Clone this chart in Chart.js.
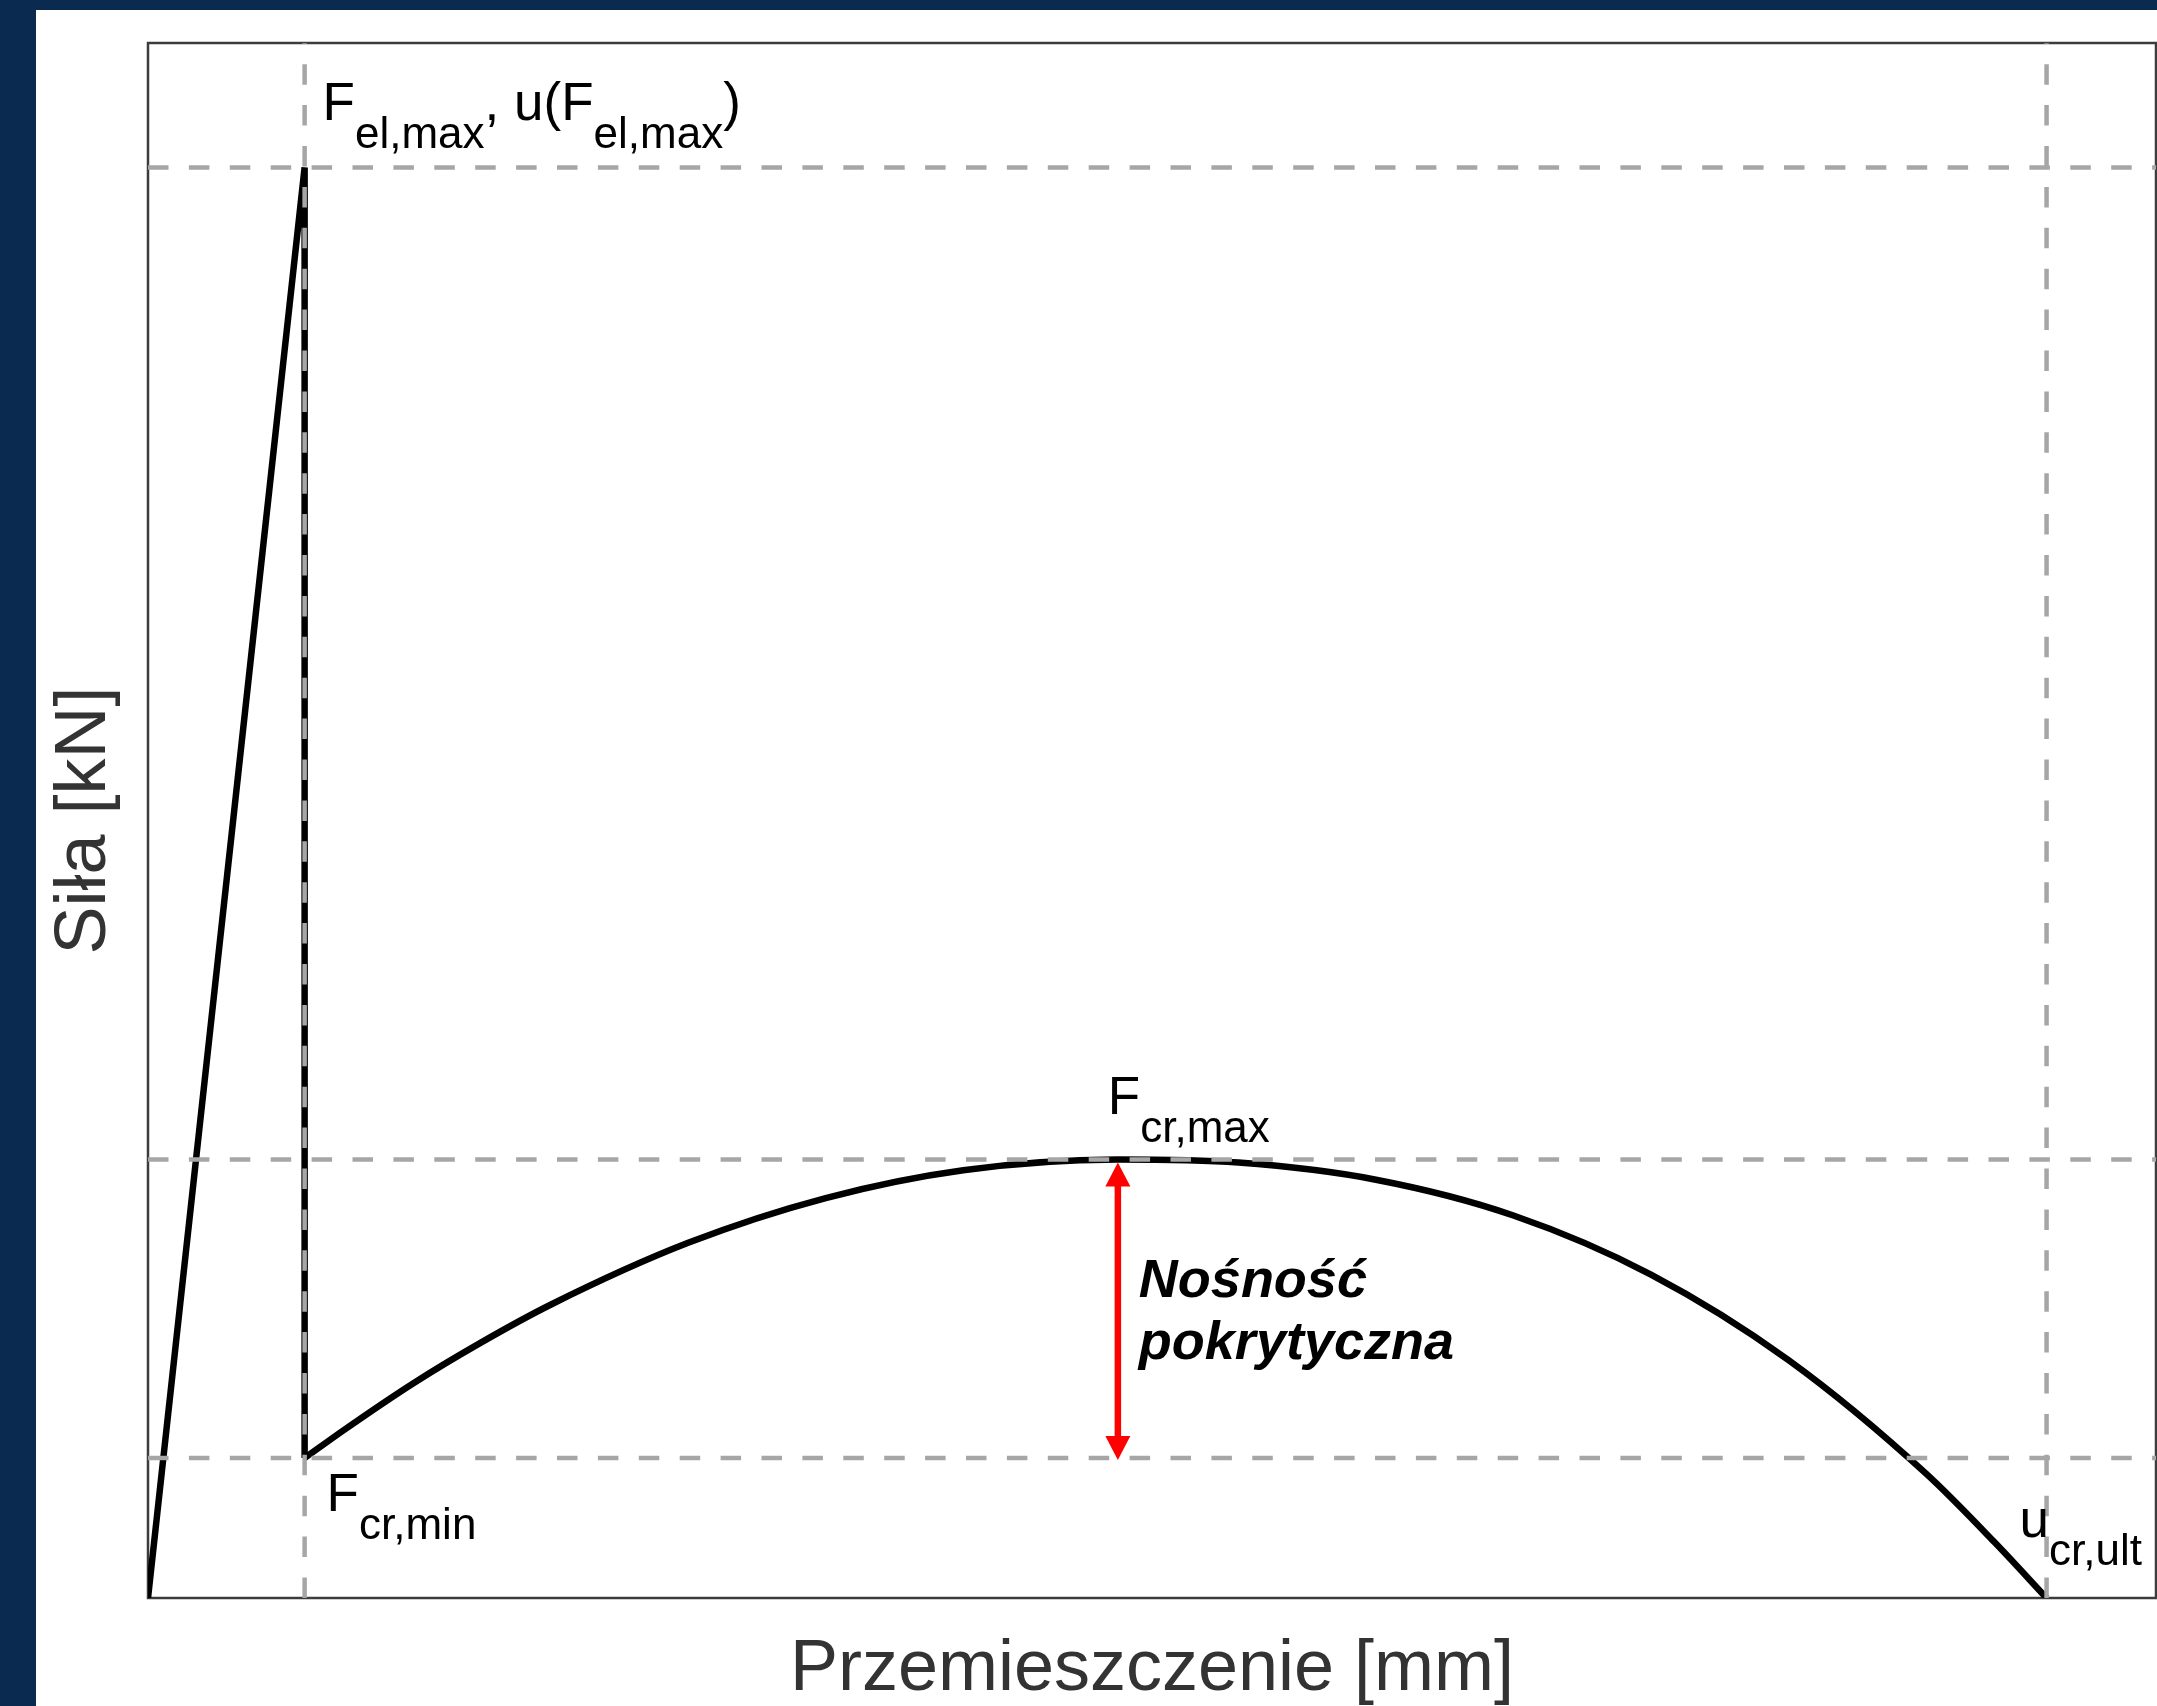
<!DOCTYPE html>
<html>
<head>
<meta charset="utf-8">
<script src="https://cdn.jsdelivr.net/npm/chart.js@4.4.1/dist/chart.umd.min.js"></script>
<style>
    html, body { margin: 0; padding: 0; }
    body { width: 2157px; height: 1706px; background: #0b2a4f; position: relative; overflow: hidden; }
    #wrap { position: absolute; left: 36px; top: 10px; width: 2121px; height: 1696px; background: #fff; }
    canvas { display: block; }
</style>
</head>
<body>
<div id="wrap"><canvas id="chart" width="2121" height="1696"></canvas></div>
<script>
// Schematic force-displacement curve, the original has no tick values.
// x = displacement [mm], y = force [kN]
const xMin = 0, xMax = 20;
const yMin = 0, yMax = 10;

// elastic part: load up to F_el,max, then sudden drop to F_cr,min
const elasticX = [0, 1.56, 1.56];
const elasticY = [0, 9.2, 0.9];

// post-critical part: F_cr,min -> F_cr,max -> u_cr,ult
const postX = [1.56, 1.95, 2.64, 3.32, 4.01, 5.38, 6.75, 8.12, 9.66, 10.86, 12.23, 13.60, 14.97, 16.34, 17.71, 18.39, 18.91];
const postY = [0.9, 1.08, 1.38, 1.644, 1.886, 2.284, 2.572, 2.751, 2.82, 2.80, 2.69, 2.46, 2.08, 1.53, 0.80, 0.36, 0];

// characteristic values (dashed guide lines)
const uElMax = 1.56;
const fElMax = 9.2;
const uCrMax = 9.66;
const fCrMax = 2.82;
const fCrMin = 0.9;
const uCrUlt = 18.91;

const FONT = '"Liberation Sans", Arial, sans-serif';
const MAIN_FONT = '53px ' + FONT;
const SUB_FONT = '44px ' + FONT;

function toPoints(xs, ys) {
    return xs.map((x, i) => ({ x: x, y: ys[i] }));
}

// horizontal guides run left->right, vertical ones bottom->top
const guides = [
    [{ x: xMin, y: fElMax }, { x: xMax, y: fElMax }],
    [{ x: xMin, y: fCrMax }, { x: xMax, y: fCrMax }],
    [{ x: xMin, y: fCrMin }, { x: xMax, y: fCrMin }],
    [{ x: uElMax, y: yMin }, { x: uElMax, y: yMax }],
    [{ x: uCrUlt, y: yMin }, { x: uCrUlt, y: yMax }]
];

// draws "F" + subscript style labels, parts = [[text, isSub], ...]
function drawParts(ctx, parts, x0, y0) {
    let x = x0;
    parts.forEach(([text, sub]) => {
        ctx.font = sub ? SUB_FONT : MAIN_FONT;
        ctx.fillText(text, x, sub ? y0 + 28 : y0);
        x += ctx.measureText(text).width;
    });
}

const framePlugin = {
    id: 'frame',
    beforeDatasetsDraw(chart) {
        const { ctx, chartArea: a } = chart;
        ctx.save();
        ctx.strokeStyle = '#3c3c3c';
        ctx.lineWidth = 2.5;
        ctx.strokeRect(a.left, a.top, a.right - a.left, a.bottom - a.top);
        ctx.restore();
    }
};

const annotationPlugin = {
    id: 'annotations',
    afterDatasetsDraw(chart) {
        const { ctx } = chart;
        const sx = chart.scales.x, sy = chart.scales.y;

        // red double arrow between F_cr,min and F_cr,max
        const ax = sx.getPixelForValue(uCrMax);
        const top = sy.getPixelForValue(fCrMax) + 3;
        const bot = sy.getPixelForValue(fCrMin) + 2;
        ctx.save();
        ctx.strokeStyle = '#ff0000';
        ctx.fillStyle = '#ff0000';
        ctx.lineWidth = 6.5;
        ctx.beginPath();
        ctx.moveTo(ax, top + 20);
        ctx.lineTo(ax, bot - 20);
        ctx.stroke();
        ctx.beginPath();
        ctx.moveTo(ax, top);
        ctx.lineTo(ax - 12.5, top + 24);
        ctx.lineTo(ax + 12.5, top + 24);
        ctx.closePath();
        ctx.fill();
        ctx.beginPath();
        ctx.moveTo(ax, bot);
        ctx.lineTo(ax - 12.5, bot - 24);
        ctx.lineTo(ax + 12.5, bot - 24);
        ctx.closePath();
        ctx.fill();

        ctx.fillStyle = '#000';
        ctx.textAlign = 'left';
        ctx.textBaseline = 'alphabetic';

        const pEl = { x: sx.getPixelForValue(uElMax), y: sy.getPixelForValue(fElMax) };
        drawParts(ctx, [['F', false], ['el,max', true], [', u(F', false], ['el,max', true], [')', false]],
            pEl.x + 18, pEl.y - 47);

        const pMax = { x: ax, y: sy.getPixelForValue(fCrMax) };
        drawParts(ctx, [['F', false], ['cr,max', true]], pMax.x - 10, pMax.y - 45);

        const pMin = { x: pEl.x, y: sy.getPixelForValue(fCrMin) };
        drawParts(ctx, [['F', false], ['cr,min', true]], pMin.x + 22, pMin.y + 53);

        const pUlt = { x: sx.getPixelForValue(uCrUlt), y: sy.getPixelForValue(0) };
        drawParts(ctx, [['u', false], ['cr,ult', true]], pUlt.x - 27, pUlt.y - 61);

        ctx.font = 'italic bold 54px ' + FONT;
        ctx.fillText('Nośność', ax + 21, pMax.y + 138);
        ctx.fillText('pokrytyczna', ax + 21, pMax.y + 200);
        ctx.restore();
    }
};

const guideSets = guides.map(g => ({
    data: g,
    borderColor: '#a6a6a6',
    borderWidth: 4.5,
    borderDash: [20.5, 20.4],
    pointRadius: 0,
    tension: 0,
    order: 0
}));

new Chart(document.getElementById('chart'), {
    type: 'line',
    data: {
        datasets: [
            ...guideSets,
            {
                data: toPoints(elasticX, elasticY),
                borderColor: '#000',
                borderWidth: 6.5,
                pointRadius: 0,
                tension: 0,
                order: 1
            },
            {
                data: toPoints(postX, postY),
                borderColor: '#000',
                borderWidth: 6.5,
                pointRadius: 0,
                cubicInterpolationMode: 'monotone',
                order: 1
            }
        ]
    },
    options: {
        responsive: false,
        animation: false,
        layout: { padding: { top: 33, right: 1, bottom: 0, left: 0 } },
        plugins: {
            legend: { display: false },
            tooltip: { enabled: false }
        },
        scales: {
            x: {
                type: 'linear',
                min: xMin,
                max: xMax,
                grid: { display: false },
                border: { display: false },
                ticks: { display: false },
                title: {
                    display: true,
                    text: 'Przemieszczenie [mm]',
                    color: '#333',
                    font: { family: FONT, size: 72, lineHeight: 1 },
                    padding: { top: 0, bottom: 0 }
                },
                afterFit(scale) { scale.height = 108; }
            },
            y: {
                type: 'linear',
                min: yMin,
                max: yMax,
                grid: { display: false },
                border: { display: false },
                ticks: { display: false },
                title: {
                    display: true,
                    text: 'Siła [kN]',
                    color: '#333',
                    font: { family: FONT, size: 72, lineHeight: 1 },
                    padding: { top: 13, bottom: 0 }
                },
                afterFit(scale) { scale.width = 112; }
            }
        }
    },
    plugins: [framePlugin, annotationPlugin]
});
</script>
</body>
</html>
